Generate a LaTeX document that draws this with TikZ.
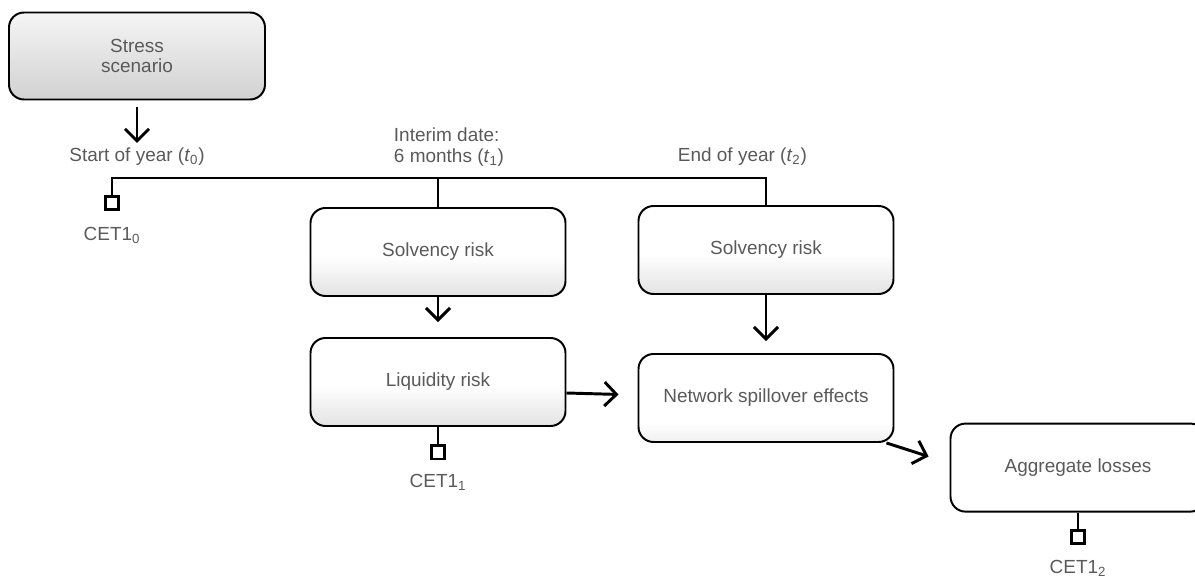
\documentclass[tikz,border=0pt]{standalone}
\usepackage{fontspec}
\setmainfont{Liberation Sans}
\usetikzlibrary{calc}
\usetikzlibrary{positioning}
\usetikzlibrary{arrows.meta}

\definecolor{txtgray}{HTML}{5A5A5A}
\pgfdeclareverticalshading{stressfill}{100bp}{color(0bp)=(gray!36); color(25bp)=(gray!36); color(75bp)=(gray!8); color(100bp)=(gray!8)}
\pgfdeclareverticalshading{softfill}{100bp}{color(0bp)=(gray!22); color(25bp)=(gray!22); color(48bp)=(white); color(100bp)=(white)}
\pgfdeclareverticalshading{netfill}{100bp}{color(0bp)=(gray!12); color(25bp)=(gray!12); color(36bp)=(white); color(100bp)=(white)}

\begin{document}
\begin{tikzpicture}[
    font=\fontsize{13.5}{14.5}\selectfont,
    box/.style={draw, line width=1.4pt, rounded corners=0.375cm, minimum width=6.375cm,
        minimum height=2.2cm, text=txtgray, align=center},
    lbl/.style={text=txtgray},
    capsq/.style={draw, line width=1.9pt, fill=white, minimum size=0.33cm, inner sep=0pt},
    line/.style={line width=2.1pt},
    arr/.style={line width=2.1pt, -{Straight Barb[length=0.3cm, width=0.6cm]}}
]
\useasboundingbox (0,0) rectangle (29.875,-14.475);
\clip (0,0) rectangle (29.875,-14.475);

% Scenario box
\node[box, shading=stressfill, minimum width=6.4cm, minimum height=2.175cm] (stress) at (3.425,-1.4) {Stress\\scenario};

% Dates on the time line
\node[lbl, anchor=north] (start) at (3.425,-3.575) {Start of year (\textit{t}\textsubscript{0})};
\node[lbl, anchor=west, align=left] (interim) at (9.725,-3.675) {Interim date:\\6 months (\textit{t}\textsubscript{1})};
\node[lbl, anchor=north] (endyr) at (18.56,-3.575) {End of year (\textit{t}\textsubscript{2})};

\coordinate (t1) at (10.95,-4.45);
\coordinate (t2) at (19.15,-4.45);

% Capital at the start
\node[capsq] (sq0) at (2.8,-5.075) {};
\node[lbl] (cet0) at (2.8,-5.875) {CET1\textsubscript{0}};

% Risk boxes
\node[box, shading=softfill] (sol1) at (10.95,-6.3) {Solvency risk};
\node[box, shading=softfill] (sol2) at (19.15,-6.25) {Solvency risk};
\node[box, shading=softfill] (liq) at (10.95,-9.55) {Liquidity risk};
\node[box, shading=netfill] (net) at (19.15,-9.95) {Network spillover effects};
\node[box, fill=white] (agg) at (26.95,-11.69) {Aggregate losses};

% Capital after each step
\node[capsq] (sq1) at (10.95,-11.31) {};
\node[lbl] (cet1) at (10.95,-12.05) {CET1\textsubscript{1}};
\node[capsq] (sq2) at (26.95,-13.425) {};
\node[lbl] (cet2) at (26.95,-14.2) {CET1\textsubscript{2}};

% Time line
\draw[line] (sq0) |- (t2) -- (sol2);
\draw[line] (t1) -- (sol1);
\draw[line] (liq) -- (sq1);
\draw[line] (agg) -- (sq2);

% Arrows
\draw[arr, shorten <=0.175cm] (stress) -- (start);
\draw[arr, shorten >=0.375cm] (sol1) -- (liq);
\draw[arr, shorten >=0.3cm] (sol2) -- (net);
\draw[arr, shorten >=0.475cm] ([yshift=-0.275cm]liq.east) -- ([yshift=0.075cm]net.west);
\draw[arr, shorten >=0.55cm] ([xshift=-0.2cm]net.south east) -- ([yshift=0.11cm]agg.west);

\end{tikzpicture}
\end{document}
